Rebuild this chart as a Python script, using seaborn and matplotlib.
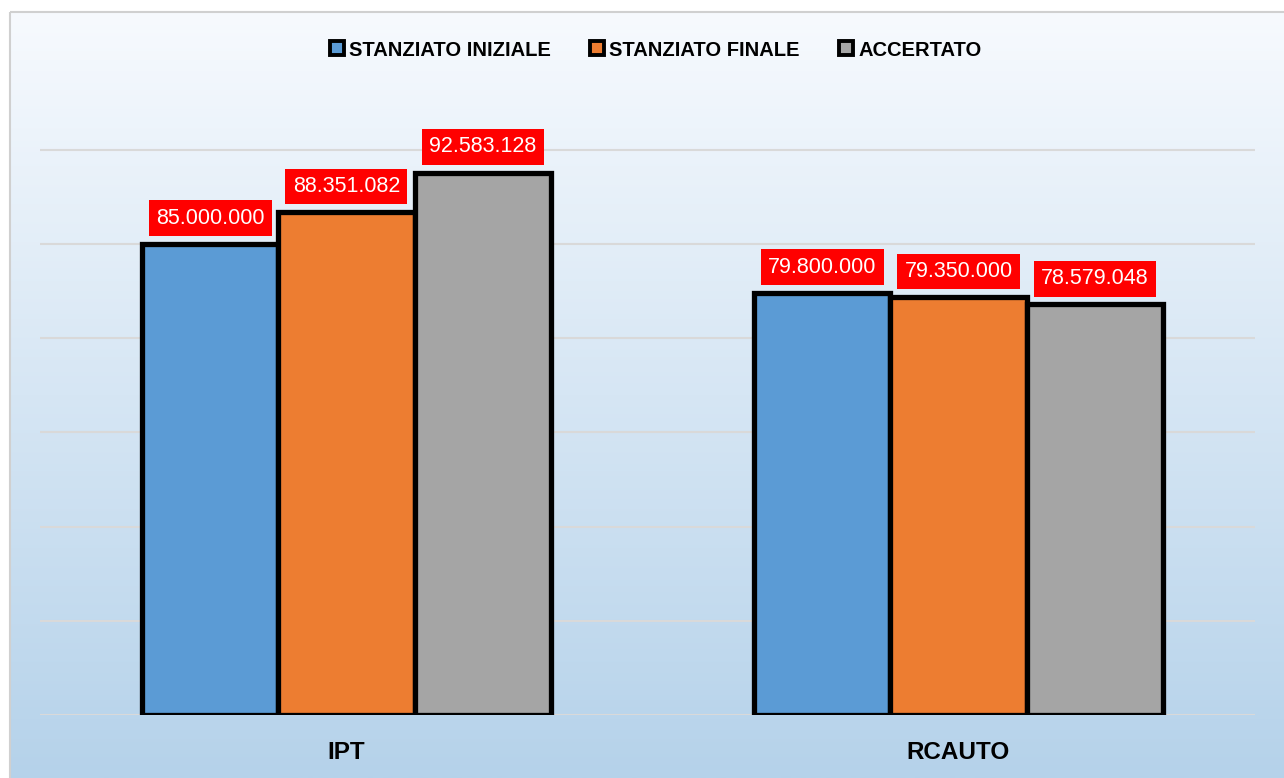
import numpy as np
import pandas as pd
import seaborn as sns
import matplotlib.pyplot as plt
from matplotlib.lines import Line2D
from matplotlib.patches import Rectangle

# data
categories = ['IPT', 'RCAUTO']
series = ['STANZIATO INIZIALE', 'STANZIATO FINALE', 'ACCERTATO']
stanziato_iniziale = [85000000, 79800000]
stanziato_finale = [88351082, 79350000]
accertato = [92583128, 78579048]
colors = ['#5B9BD5', '#ED7D31', '#A5A5A5']

df = pd.DataFrame({
    'categoria': categories * 3,
    'serie': [series[0]] * 2 + [series[1]] * 2 + [series[2]] * 2,
    'valore': stanziato_iniziale + stanziato_finale + accertato,
})

sns.set_style('white')
plt.rcParams['font.family'] = ['Liberation Sans', 'DejaVu Sans']
plt.rcParams['text.color'] = 'black'
plt.rcParams['xtick.color'] = 'black'

fig = plt.figure(figsize=(12.84, 7.78), dpi=100)

# gradient background with a thin grey border
bg = fig.add_axes([0, 0, 1, 1])
bg.set_xlim(0, 1284)
bg.set_ylim(778, 0)
grad = np.linspace(0, 1, 256)[:, None]
top = np.array([247, 250, 254]) / 255
bot = np.array([181, 210, 234]) / 255
img = top + (bot - top) * grad[..., None]
bg.imshow(img, extent=[10, 1284, 778, 12], aspect='auto', zorder=0)
bg.add_patch(Rectangle((10, 12), 1290, 800, fill=False, edgecolor='#D0D0D0', lw=1.5, zorder=1))
bg.axis('off')

ymin, ymax = 35e6, 100e6
ax = fig.add_axes([40 / 1284, 1 - 715 / 778, 1215 / 1284, (715 - 102.7) / 778])
ax.patch.set_alpha(0)
sns.barplot(data=df, x='categoria', y='valore', hue='serie', palette=colors, saturation=1,
            edgecolor='black', linewidth=3.8, width=0.668, ax=ax, legend=False, zorder=3)
ax.set_ylim(ymin, ymax)
ax.set_xlim(-0.5008, 1.4845)

# let bars start at the axis bottom so the black outline is visible
for p in ax.patches:
    h = p.get_height()
    p.set_y(ymin)
    p.set_height(h - ymin)
    p.set_joinstyle('miter')

for cont, vals in zip(ax.containers, [stanziato_iniziale, stanziato_finale, accertato]):
    labels = [f'{v:,}'.replace(',', '.') for v in vals]
    ax.bar_label(cont, labels=labels, padding=11, color='white', fontsize=15.5,
                 bbox=dict(boxstyle='square,pad=0.34', facecolor='#FF0000', edgecolor='none'))

ax.set_yticks(np.arange(35e6, 96e6, 10e6))
ax.set_yticklabels([])
ax.tick_params(axis='y', length=0)
ax.tick_params(axis='x', length=0, pad=19)
ax.grid(axis='y', color='#D9D9D9', linewidth=1.5, zorder=0)
ax.set_axisbelow(True)
for lbl in ax.get_xticklabels():
    lbl.set_fontweight('bold')
    lbl.set_fontsize(17.5)
    lbl.set_color('black')
ax.set_xlabel('')
ax.set_ylabel('')
sns.despine(ax=ax, left=True, bottom=True)

handles = [Line2D([], [], marker='s', linestyle='none', markersize=10, markerfacecolor=c,
                  markeredgecolor='black', markeredgewidth=2.8) for c in colors]
fig.legend(handles, series, loc='center', bbox_to_anchor=(655 / 1284, 1 - 50 / 778), ncol=3,
           frameon=False, handlelength=0.8, handletextpad=0.2, columnspacing=1.9,
           prop={'weight': 'bold', 'size': 14.5})

fig.savefig('out.png', dpi=100)
